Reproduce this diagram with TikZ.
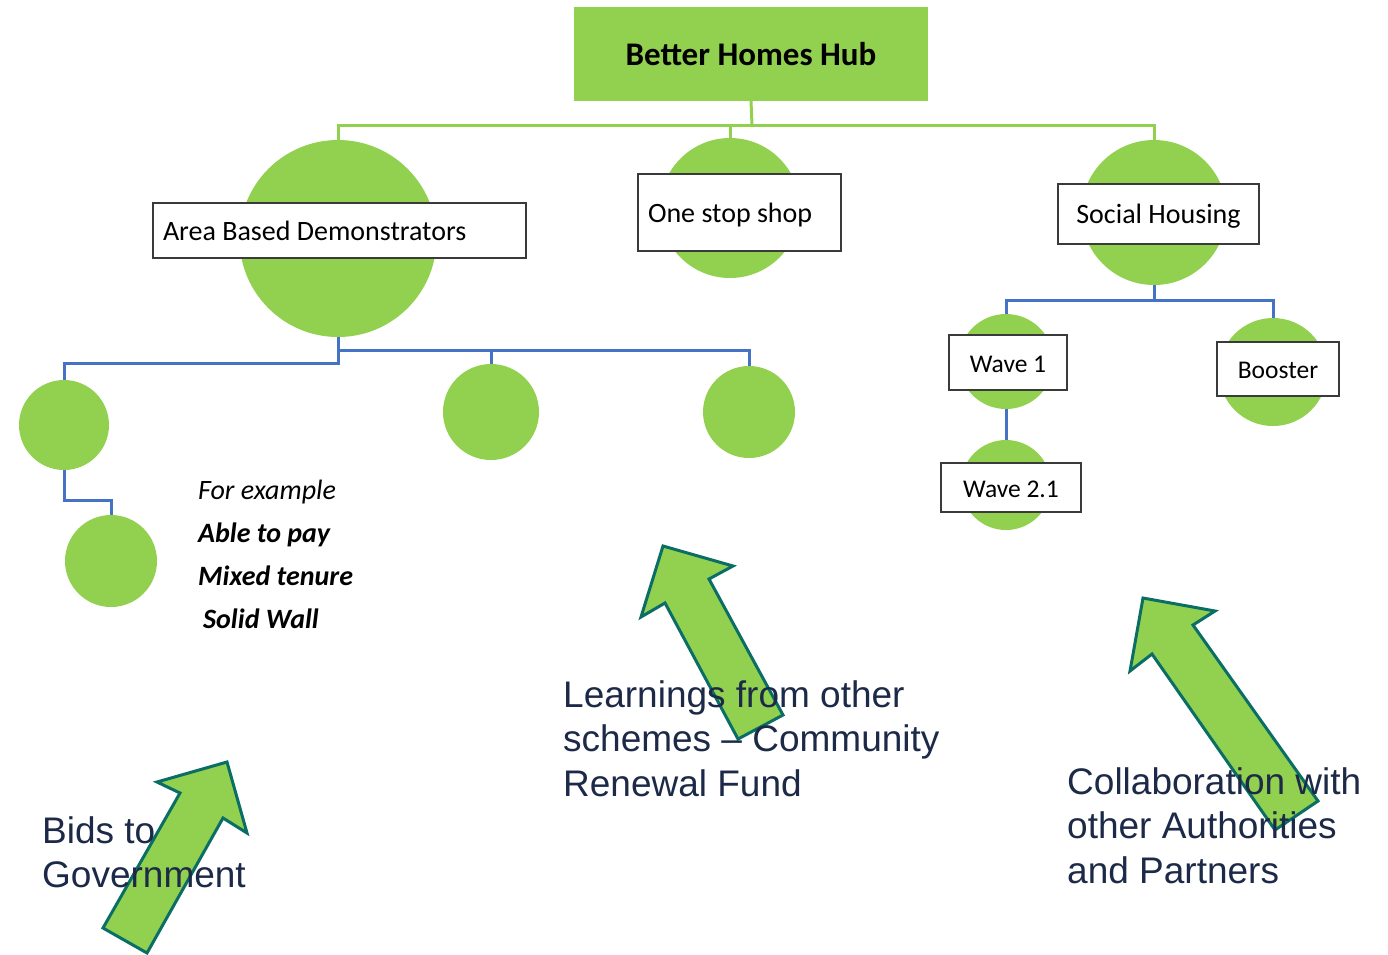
\documentclass[tikz,border=0pt]{standalone}
\usepackage{fontspec}
\setmainfont{Carlito}
\newfontfamily\arialfont{Liberation Sans}
\definecolor{leaf}{HTML}{92D050}
\definecolor{bluelink}{HTML}{4472C4}
\definecolor{arrowedge}{HTML}{0B6E64}
\definecolor{ink}{HTML}{1C2A48}
\definecolor{boxedge}{HTML}{3A3A3A}
\begin{document}
\begin{tikzpicture}[x=1pt,y=-1pt,
  disc/.style={circle,fill=leaf,inner sep=0pt,outer sep=0pt},
  labelbox/.style={draw=boxedge,line width=1.8pt,fill=white,inner sep=0pt,outer sep=0pt,
    text height=22pt,text depth=3pt,font=\fontsize{28}{32}\selectfont},
  smallbox/.style={labelbox,font=\fontsize{25.5}{30}\selectfont},
  hubline/.style={draw=leaf,line width=3pt},
  tieline/.style={draw=bluelink,line width=3pt},
  bigarrow/.style={fill=leaf,draw=arrowedge,line width=3pt,line join=miter},
  note/.style={text=ink,font=\arialfont\fontsize{37}{44.5}\selectfont,align=left,inner sep=0pt,anchor=north west}
]
\path[use as bounding box] (0,0) rectangle (1388,954);

% top hub
\node[fill=leaf,minimum width=354pt,minimum height=94pt,inner sep=0pt,outer sep=0pt,
  font=\bfseries\fontsize{33}{37}\selectfont] (hub) at (751,54) {Better Homes Hub};

% green discs behind the labels
\node[disc,minimum size=197pt] (abd) at (338,238.5) {};
\node[disc,minimum size=140pt] (oss) at (730,208) {};
\node[disc,minimum size=145pt] (sh) at (1154,212.5) {};
\node[disc,minimum size=95pt] (w1) at (1006,361.5) {};
\node[disc,minimum size=90pt] (w2) at (1006,485) {};
\node[disc,minimum size=108pt] (bo) at (1273,372) {};
\node[disc,minimum size=90pt] (c1) at (64,425) {};
\node[disc,minimum size=96pt] (c2) at (491,412) {};
\node[disc,minimum size=92pt] (c3) at (749,412) {};
\node[disc,minimum size=92pt] (c4) at (111,561) {};

% connectors from the hub
\coordinate (gj) at (752,125);
\draw[hubline] (hub.south) -- (gj);
\draw[hubline] (abd.north) -- (abd.north |- gj) -- (sh.north |- gj) -- (sh.north);
\draw[hubline] (oss.north |- gj) -- (oss.north);

% area based demonstrators branches
\coordinate (bj) at (338,350);
\coordinate (bk) at (338,363);
\coordinate (bm) at (64,500);
\draw[tieline] (abd.south) -- (abd.south |- bj) -- (c3.north |- bj) -- (c3.north);
\draw[tieline] (c2.north |- bj) -- (c2.north);
\draw[tieline] (abd.south |- bj) -- (bk) -- (c1.north |- bk) -- (c1.north);
\draw[tieline] (c1.south) -- (bm) -- (c4.north |- bm) -- (c4.north);

% social housing branches
\coordinate (sj) at (1154,300);
\draw[tieline] (sh.south) -- (sj);
\draw[tieline] (w1.north) -- (w1.north |- sj) -- (bo.north |- sj) -- (bo.north);
\draw[tieline] (w1.south) -- (w2.north);

% labels
\node[labelbox,anchor=west,inner xsep=10pt,minimum height=55pt] (abdl) at (153,230.5) {\makebox[353pt][l]{Area Based Demonstrators}};
\node[labelbox,anchor=west,inner xsep=10pt,minimum height=77pt] (ossl) at (638,212.5) {\makebox[183pt][l]{One stop shop}};
\node[labelbox,minimum width=201pt,minimum height=60pt] (shl) at (1158.5,214) {Social Housing};
\node[smallbox,minimum width=118pt,minimum height=55pt] (w1l) at (1008,362.5) {Wave 1};
\node[smallbox,minimum width=140pt,minimum height=49pt] (w2l) at (1011,487.5) {Wave 2.1};
\node[smallbox,minimum width=122pt,minimum height=54pt] (bol) at (1278,369) {Booster};

% example list
\node[anchor=north west,inner sep=0pt,align=left,font=\fontsize{28}{43}\selectfont] (examples) at (198,480)
  {\itshape For example\\\bfseries\itshape Able to pay\\\bfseries\itshape Mixed tenure\\\bfseries\itshape \hspace{5pt}Solid Wall};

% large arrows
\draw[bigarrow] (227,762) -- (247,833) -- (223,818) -- (147,953) -- (103,928) -- (180,793) -- (157,782) -- cycle;
\draw[bigarrow] (663,546) -- (733,566) -- (709,579) -- (783,715) -- (738,739) -- (665,603) -- (641,617) -- cycle;
\draw[bigarrow] (1143,598) -- (1215,611) -- (1193,625) -- (1318,801) -- (1275,830) -- (1152,654) -- (1130,671) -- cycle;

% captions
\node[note] (bids) at (42,816) {Bids to\\Government};
\node[note] (learn) at (563,680) {Learnings from other\\schemes \textendash{} Community\\Renewal Fund};
\node[note] (collab) at (1067,767) {Collaboration with\\other Authorities\\and Partners};
\end{tikzpicture}
\end{document}
